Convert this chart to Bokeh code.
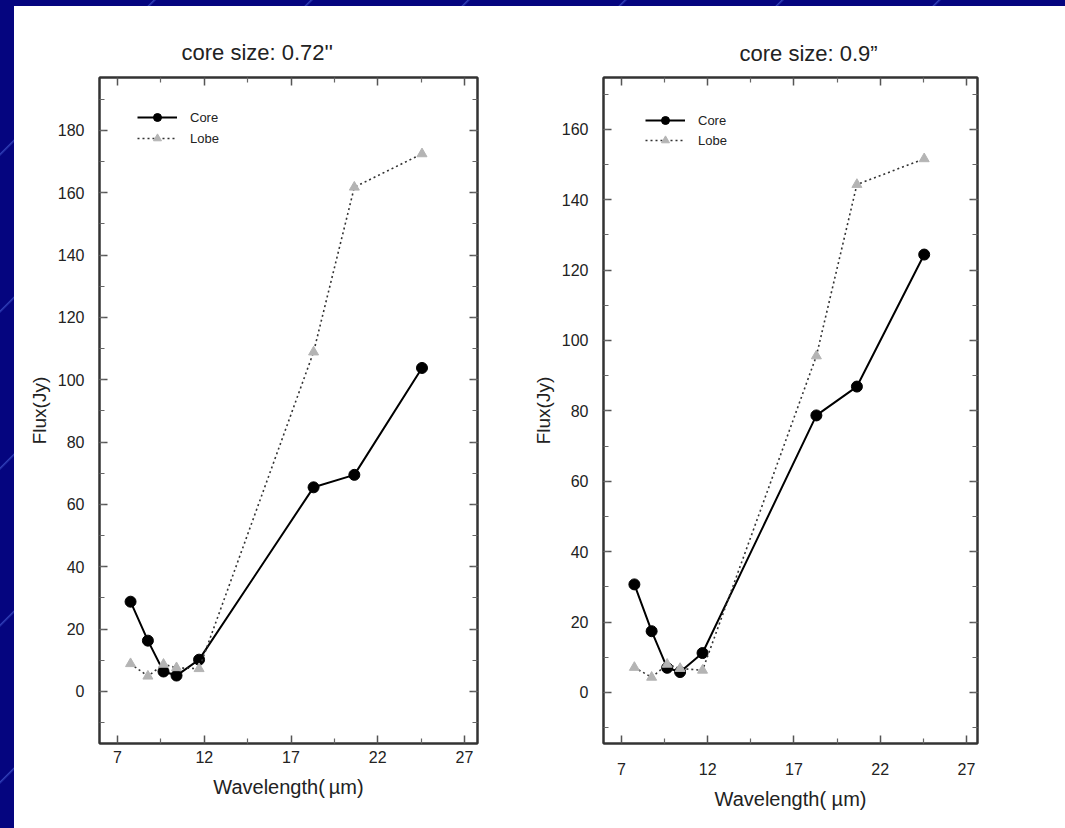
from bokeh.plotting import figure
from bokeh.models import (Range1d, LinearAxis, FixedTicker, SingleIntervalTicker,
                          Legend, LegendItem, Title, Spacer)
from bokeh.layouts import row, column
from bokeh.embed import file_html
from bokeh.resources import INLINE

# ---- data ----
wavelength = [7.75, 8.75, 9.65, 10.4, 11.7, 18.3, 20.65, 24.55]
core_072 = [28.8, 16.3, 6.4, 5.1, 10.2, 65.5, 69.5, 103.8]
lobe_072 = [8.9, 4.9, 8.7, 7.6, 7.3, 108.9, 161.8, 172.5]
core_09 = [30.7, 17.4, 7.0, 5.8, 11.2, 78.7, 86.9, 124.4]
lobe_09 = [7.1, 4.3, 8.0, 6.8, 6.3, 95.6, 144.3, 151.6]
x_ticks = [7, 12, 17, 22, 27]
x_minor = [9.5, 14.5, 19.5, 24.5]
titles = ["core size: 0.72''", "core size: 0.9\u201d"]
x_labels = ["Wavelength(\u2009\u00b5m)", "Wavelength( \u00b5m)"]
y_label = "Flux(Jy)"
series_names = ["Core", "Lobe"]

FONT = "Liberation Sans"


def make_plot(title, xlabel, core, lobe, width, mb, xr, yr, title_off, title_standoff,
              xlab_standoff, leg_loc, leg_spacing):
    p = figure(width=width, height=822, output_backend="svg", toolbar_location=None,
               x_range=Range1d(*xr), y_range=Range1d(*yr),
               min_border_left=mb[0], min_border_right=mb[1],
               min_border_top=mb[2], min_border_bottom=mb[3],
               x_axis_location=None, y_axis_location=None)
    p.background_fill_color = "white"
    p.border_fill_color = "white"
    p.outline_line_color = "#333333"
    p.outline_line_width = 2
    p.xgrid.grid_line_color = None
    p.ygrid.grid_line_color = None

    xt = FixedTicker(ticks=x_ticks, minor_ticks=x_minor)
    yt = SingleIntervalTicker(interval=20, num_minor_ticks=2)

    def style(ax, labels=True):
        ax.axis_line_color = "#333333"
        ax.axis_line_width = 2
        ax.major_tick_in = 8
        ax.major_tick_out = 0
        ax.minor_tick_in = 5
        ax.minor_tick_out = 0
        ax.major_tick_line_color = "#555555"
        ax.major_tick_line_width = 1.5
        ax.minor_tick_line_color = "#666666"
        ax.minor_tick_line_width = 1.2
        ax.major_label_text_font = FONT
        ax.axis_label_text_font = FONT
        ax.axis_label_text_font_style = "normal"
        ax.axis_label_text_color = "#222222"
        if labels:
            ax.major_label_text_font_size = "16px"
            ax.major_label_text_color = "#222222"
        else:
            ax.major_label_text_font_size = "1px"
            ax.major_label_text_color = None
            ax.major_label_standoff = 0

    xb = LinearAxis(ticker=xt, axis_label=xlabel)
    style(xb)
    xb.major_label_standoff = xlab_standoff
    xb.axis_label_standoff = 10
    xb.axis_label_text_font_size = "20px"
    p.add_layout(xb, "below")

    yl = LinearAxis(ticker=yt, axis_label=y_label)
    style(yl)
    yl.major_label_standoff = 15
    yl.axis_label_standoff = 5
    yl.axis_label_text_font_size = "19px"
    p.add_layout(yl, "left")

    xa = LinearAxis(ticker=xt)
    style(xa, labels=False)
    p.add_layout(xa, "above")
    yr_ax = LinearAxis(ticker=yt)
    style(yr_ax, labels=False)
    p.add_layout(yr_ax, "right")

    t = Title(text=title, align="left", offset=title_off, text_font=FONT,
              text_font_size="22px", text_font_style="normal", text_color="#222222",
              standoff=title_standoff)
    p.add_layout(t, "above")

    cl = p.line(wavelength, core, line_color="black", line_width=2)
    cp = p.scatter(wavelength, core, marker="circle", size=11, fill_color="black",
                   line_color="black")
    ll = p.line(wavelength, lobe, line_color="#333333", line_width=1.6, line_dash="2 3")
    lp = p.scatter(wavelength, lobe, marker="triangle", size=10, fill_color="#b4b4b4",
                   line_color="#b4b4b4")

    leg = Legend(items=[LegendItem(label=series_names[0], renderers=[cl, cp]),
                        LegendItem(label=series_names[1], renderers=[ll, lp])],
                 location=leg_loc, glyph_width=40, glyph_height=20, label_height=20,
                 spacing=leg_spacing, padding=0, margin=0, border_line_color=None,
                 background_fill_alpha=0, label_text_font=FONT,
                 label_text_font_size="13px", label_standoff=13,
                 label_text_color="#222222")
    p.add_layout(leg)
    return p


# legend location = (x of glyph start, y of legend bottom above the frame bottom)
p1 = make_plot(titles[0], x_labels[0], core_072, lobe_072, 506, (85, 43, 71, 85),
               (5.96, 27.75), (-16.7, 197.0), 82, 26, 7, (38, 595), 1)
p2 = make_plot(titles[1], x_labels[1], core_09, lobe_09, 545, (83, 88, 68, 84),
               (5.96, 27.64), (-14.5, 174.7), 136, 24, 19, (42, 593), 0)

bg = ("repeating-linear-gradient(135deg, #05057f 0px, #05057f 108px, "
      "#3140b8 109px, #05057f 111px)")
plots = row(p1, p2, spacing=0, styles={"background-color": "white"})
page = column(Spacer(height=6, width=1065),
              row(Spacer(width=14, height=822), plots, spacing=0),
              spacing=0, styles={"background": bg, "background-color": "#05057f"})

open("out.html", "w").write(file_html(page, INLINE))
